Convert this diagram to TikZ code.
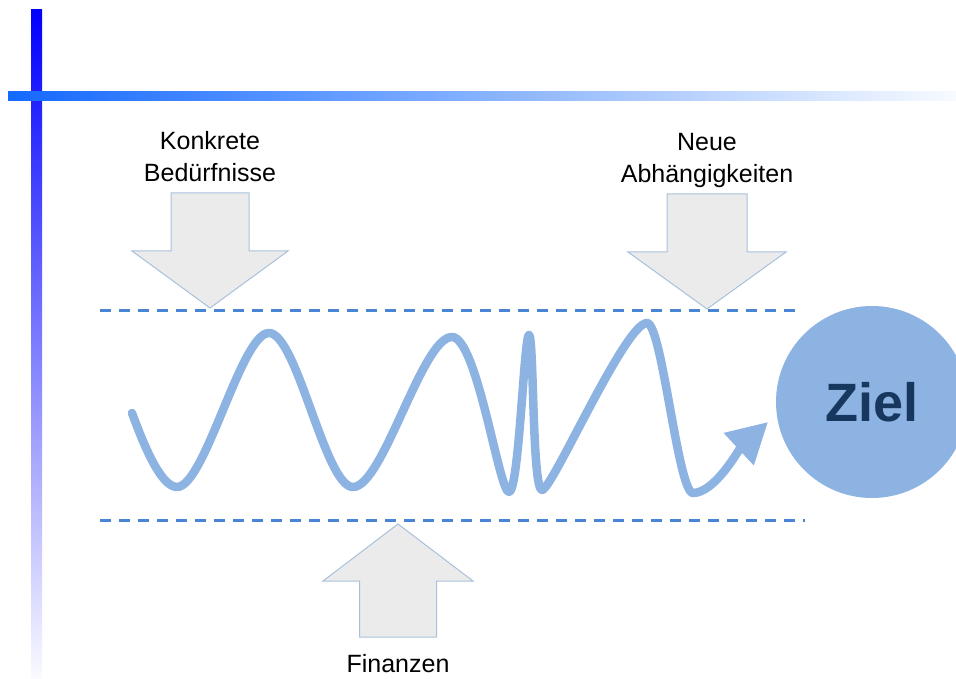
\documentclass[tikz,border=0pt]{standalone}
\usepackage{fontspec}
\setmainfont{Liberation Sans}
\usetikzlibrary{positioning}
\usetikzlibrary{arrows.meta}

\definecolor{wavecol}{HTML}{8DB3E2}
\definecolor{zieltext}{HTML}{17375E}
\definecolor{arrowfill}{HTML}{EBEBEB}
\definecolor{arrowedge}{HTML}{A9C0DC}
\definecolor{dashcol}{HTML}{4A84D4}
\definecolor{barblue}{RGB}{20,105,255}

\begin{document}
\begin{tikzpicture}[x=1pt,y=1pt]
	\tikzset{
		blockarrow/.style={fill=arrowfill, draw=arrowedge, line width=1pt, line join=miter},
		textlabel/.style={align=center, inner sep=0pt, font=\fontsize{25}{32}\selectfont},
		boundline/.style={dashcol, line width=3pt, dash pattern=on 11pt off 8pt},
		wavestyle/.style={wavecol, line width=8.5pt, line cap=round, line join=round},
		goalnode/.style={circle, fill=wavecol, minimum size=192pt, inner sep=0pt, text=zieltext, font=\fontsize{54}{60}\selectfont\bfseries},
	}
	\useasboundingbox (0,0) rectangle (956,678);

	% axis bars
	\shade[top color=blue, bottom color=blue!2] (31,0) rectangle (42,668);
	\shade[left color=barblue, right color=barblue!3] (8,577) rectangle (956,586);

	% corridor
	\draw[boundline] (100,367) -- (802,367);
	\draw[boundline] (100,158) -- (805,158);

	\node[goalnode] (ziel) at (872,276) {Ziel};

	% the way to the goal
	\draw[wavestyle, -{Triangle[length=40pt,width=42pt]}] (132,265)
		.. controls (142,238) and (160,191) .. (177,191)
		.. controls (205,191) and (241,345) .. (269,345)
		.. controls (297,345) and (325,191) .. (353,191)
		.. controls (383,191) and (422,341) .. (452,341)
		.. controls (477,341) and (499,186) .. (509,186)
		.. controls (519,186) and (524,343) .. (529,343)
		.. controls (534,343) and (532,188) .. (542,188)
		.. controls (552,188) and (625,355) .. (647,355)
		.. controls (662,355) and (678,185) .. (693,185)
		.. controls (715,185) and (740,230) .. (768,256);

	% pressure from above and below
	\coordinate (needs) at (210,370);
	\coordinate (needstop) at (210,485);
	\draw[blockarrow] (needs) -- ++(-78,57) -- ++(39,0) -- ++(0,58) -- ++(78,0) -- ++(0,-58) -- ++(39,0) -- cycle;
	\node[textlabel, above=11pt of needstop] (needslbl) {Konkrete\\Bedürfnisse};

	\coordinate (deps) at (707,369);
	\coordinate (depstop) at (707,484);
	\draw[blockarrow] (deps) -- ++(-79,57) -- ++(39,0) -- ++(0,58) -- ++(80,0) -- ++(0,-58) -- ++(39,0) -- cycle;
	\node[textlabel, above=6pt of depstop] (depslbl) {Neue\\Abhängigkeiten};

	\coordinate (fin) at (398,154);
	\coordinate (finbottom) at (398,41);
	\draw[blockarrow] (fin) -- ++(75,-57) -- ++(-36.5,0) -- ++(0,-56) -- ++(-77,0) -- ++(0,56) -- ++(-36.5,0) -- cycle;
	\node[textlabel, below=17pt of finbottom] (finlbl) {Finanzen};
\end{tikzpicture}
\end{document}
